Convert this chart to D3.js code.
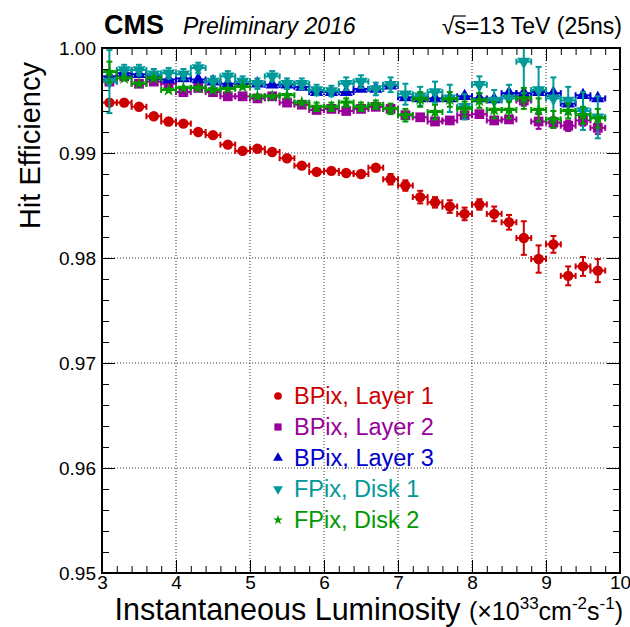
<!DOCTYPE html>
<html>
<head>
<meta charset="utf-8">
<script src="https://cdn.jsdelivr.net/npm/d3@7"></script>
<style>
  body { margin: 0; background: #fff; }
  svg { display: block; font-family: 'Liberation Sans', Arial, Helvetica, sans-serif; }
</style>
</head>
<body>
<svg id="chart" width="630" height="627"></svg>
<script>
// bin centres, instantaneous luminosity (1e33 cm-2 s-1)
const lumi = [3.1, 3.3, 3.5, 3.7, 3.9, 4.1, 4.3, 4.5, 4.7, 4.9, 5.1, 5.3, 5.5, 5.7, 5.9, 6.1, 6.3,
  6.5, 6.7, 6.9, 7.1, 7.3, 7.5, 7.7, 7.9, 8.1, 8.3, 8.5, 8.7, 8.9, 9.1, 9.3, 9.5, 9.7];
const binHalfWidth = 0.1;

const bpixL1Eff = [0.9948, 0.9948, 0.9944, 0.9935, 0.9930, 0.9928, 0.9920, 0.9917, 0.9908, 0.9902,
  0.9904, 0.9901, 0.9895, 0.9888, 0.9882, 0.9883, 0.9881, 0.9880, 0.9886, 0.9875, 0.9869, 0.9858,
  0.9853, 0.9849, 0.9842, 0.9851, 0.9842, 0.9834, 0.9819, 0.9799, 0.9813, 0.9783, 0.9792, 0.9788];
const bpixL1Err = [0.0001, 0.0001, 0.0001, 0.0001, 0.0001, 0.0001, 0.0001, 0.0001, 0.0001, 0.0001,
  0.0001, 0.0001, 0.0001, 0.0002, 0.0002, 0.0002, 0.0002, 0.0002, 0.0003, 0.0005, 0.0005, 0.0006,
  0.0005, 0.0006, 0.0006, 0.0005, 0.0007, 0.0007, 0.0016, 0.0013, 0.0008, 0.0009, 0.0009, 0.0011];

const bpixL2Eff = [0.9968, 0.9973, 0.9966, 0.9968, 0.9966, 0.9958, 0.9962, 0.9958, 0.9954, 0.9954,
  0.9952, 0.9954, 0.9948, 0.9946, 0.9941, 0.9942, 0.9940, 0.9942, 0.9944, 0.9942, 0.9936, 0.9934,
  0.9930, 0.9931, 0.9936, 0.9937, 0.9931, 0.9932, 0.9950, 0.9930, 0.9929, 0.9926, 0.9931, 0.9924];
const bpixL2Err = [0.0002, 0.0001, 0.0001, 0.0001, 0.0001, 0.0001, 0.0001, 0.0001, 0.0001, 0.0001,
  0.0001, 0.0001, 0.0001, 0.0001, 0.0001, 0.0001, 0.0002, 0.0002, 0.0002, 0.0002, 0.0002, 0.0002,
  0.0002, 0.0003, 0.0003, 0.0003, 0.0003, 0.0004, 0.0005, 0.0007, 0.0005, 0.0005, 0.0005, 0.0006];

const bpixL3Eff = [0.9973, 0.9976, 0.9975, 0.9973, 0.9970, 0.9971, 0.9970, 0.9968, 0.9966, 0.9966,
  0.9966, 0.9965, 0.9965, 0.9963, 0.9958, 0.9958, 0.9958, 0.9961, 0.9961, 0.9964, 0.9953, 0.9952,
  0.9952, 0.9952, 0.9954, 0.9952, 0.9951, 0.9957, 0.9957, 0.9958, 0.9957, 0.9947, 0.9955, 0.9952];
const bpixL3Err = [0.0002, 0.0001, 0.0001, 0.0001, 0.0001, 0.0001, 0.0001, 0.0001, 0.0001, 0.0001,
  0.0001, 0.0001, 0.0001, 0.0001, 0.0001, 0.0001, 0.0001, 0.0001, 0.0001, 0.0001, 0.0002, 0.0002,
  0.0002, 0.0002, 0.0002, 0.0002, 0.0002, 0.0002, 0.0003, 0.0003, 0.0003, 0.0003, 0.0003, 0.0003];

const fpixD1Eff = [0.9968, 0.9979, 0.9979, 0.9975, 0.9976, 0.9975, 0.9981, 0.9968, 0.9973, 0.9968,
  0.9966, 0.9973, 0.9966, 0.9966, 0.9960, 0.9959, 0.9966, 0.9968, 0.9961, 0.9965, 0.9956, 0.9954,
  0.9958, 0.9952, 0.9944, 0.9965, 0.9950, 0.9952, 0.9987, 0.9960, 0.9952, 0.9950, 0.9940, 0.9934];
const fpixD1Err = [0.0030, 0.0005, 0.0005, 0.0005, 0.0005, 0.0005, 0.0005, 0.0005, 0.0005, 0.0005,
  0.0005, 0.0005, 0.0005, 0.0005, 0.0005, 0.0005, 0.0006, 0.0006, 0.0006, 0.0007, 0.0010, 0.0009,
  0.0010, 0.0013, 0.0012, 0.0008, 0.0010, 0.0013, 0.0030, 0.0022, 0.0020, 0.0013, 0.0018, 0.0020];

const fpixD2Eff = [0.9977, 0.9971, 0.9966, 0.9971, 0.9960, 0.9962, 0.9962, 0.9960, 0.9961, 0.9963,
  0.9954, 0.9954, 0.9955, 0.9948, 0.9944, 0.9944, 0.9948, 0.9944, 0.9946, 0.9942, 0.9936, 0.9951,
  0.9939, 0.9951, 0.9942, 0.9950, 0.9941, 0.9941, 0.9952, 0.9941, 0.9932, 0.9940, 0.9936, 0.9933];
const fpixD2Err = [0.0010, 0.0003, 0.0003, 0.0003, 0.0003, 0.0003, 0.0003, 0.0003, 0.0003, 0.0003,
  0.0003, 0.0003, 0.0003, 0.0003, 0.0004, 0.0004, 0.0004, 0.0004, 0.0004, 0.0005, 0.0006, 0.0007,
  0.0007, 0.0007, 0.0007, 0.0007, 0.0008, 0.0008, 0.0010, 0.0011, 0.0008, 0.0007, 0.0008, 0.0009];

const seriesNames = ['BPix, Layer 1', 'BPix, Layer 2', 'BPix, Layer 3', 'FPix, Disk 1', 'FPix, Disk 2'];
const xTickLabels = [3, 4, 5, 6, 7, 8, 9, 10];
const yTickLabels = [0.95, 0.96, 0.97, 0.98, 0.99, 1.00];

const series = [
  { name: seriesNames[0], eff: bpixL1Eff, err: bpixL1Err, color: '#cc0000', shape: 'circle' },
  { name: seriesNames[1], eff: bpixL2Eff, err: bpixL2Err, color: '#990099', shape: 'square' },
  { name: seriesNames[2], eff: bpixL3Eff, err: bpixL3Err, color: '#0000cc', shape: 'up' },
  { name: seriesNames[3], eff: fpixD1Eff, err: fpixD1Err, color: '#009999', shape: 'down' },
  { name: seriesNames[4], eff: fpixD2Eff, err: fpixD2Err, color: '#009900', shape: 'star' }
];

const svg = d3.select('#chart'),
  margin = { top: 48, right: 10, bottom: 54, left: 102 },
  width = 630 - margin.left - margin.right,
  height = 627 - margin.top - margin.bottom;

const x = d3.scaleLinear().domain([3, 10]).range([0, width]),
  y = d3.scaleLinear().domain([0.95, 1.0]).range([height, 0]);

const g = svg.append('g')
  .attr('transform', 'translate(' + margin.left + ',' + margin.top + ')');

// dotted grid at the major ticks
g.append('g').selectAll('line')
  .data(xTickLabels.slice(1, -1))
  .enter().append('line')
  .attr('x1', (d) => x(d)).attr('x2', (d) => x(d))
  .attr('y1', 0).attr('y2', height)
  .attr('stroke', '#333').attr('stroke-width', 1).attr('stroke-dasharray', '1,2');
g.append('g').selectAll('line')
  .data(yTickLabels.slice(1, -1))
  .enter().append('line')
  .attr('y1', (d) => y(d)).attr('y2', (d) => y(d))
  .attr('x1', 0).attr('x2', width)
  .attr('stroke', '#333').attr('stroke-width', 1).attr('stroke-dasharray', '1,2');

// axes: ticks on all four sides, pointing inwards; only bottom/left carry labels
const xMinor = x.ticks(35), yMinor = y.ticks(25);
const axes = [
  [d3.axisBottom(x), xMinor, 7, null, 'translate(0,' + height + ')', 2],
  [d3.axisBottom(x), xTickLabels, 13, d3.format('d'), 'translate(0,' + height + ')', 2],
  [d3.axisTop(x), xMinor, 7, null, null, 0],
  [d3.axisTop(x), xTickLabels, 13, null, null, 0],
  [d3.axisLeft(y), yMinor, 7, null, null, 0],
  [d3.axisLeft(y), yTickLabels, 13, d3.format('.2f'), null, 6],
  [d3.axisRight(y), yMinor, 7, null, 'translate(' + width + ',0)', 0],
  [d3.axisRight(y), yTickLabels, 13, null, 'translate(' + width + ',0)', 0]
];
axes.forEach(([axis, vals, size, fmt, tr, pad]) => {
  axis.tickValues(vals).tickSizeInner(-size).tickSizeOuter(0).tickPadding(pad);
  if (fmt) axis.tickFormat(fmt);
  const a = g.append('g').call(axis);
  if (tr) a.attr('transform', tr);
  a.select('.domain').remove();
  a.selectAll('line').attr('stroke', '#000').attr('stroke-width', 1);
  if (!fmt) {
    a.selectAll('text').remove();
  } else {
    a.selectAll('text').attr('font-size', 19).attr('fill', '#000')
      .attr('font-family', "'Liberation Sans', Arial, sans-serif");
  }
});

// data points with error bars (clipped to the frame)
svg.append('clipPath').attr('id', 'frame-clip')
  .append('rect').attr('width', width).attr('height', height);
const plot = g.append('g').attr('clip-path', 'url(#frame-clip)');

function symbolPath(shape, scale) {
  const s = scale || 1;
  if (shape === 'circle') return d3.symbol(d3.symbolCircle, 85 * s)();
  if (shape === 'square') return d3.symbol(d3.symbolSquare, 95 * s)();
  if (shape === 'star') return d3.symbol(d3.symbolStar, 55 * s)();
  return d3.symbol(d3.symbolTriangle, 75 * s)();
}
const markerHalf = { circle: 5.2, square: 5, up: 5, down: 5, star: 4 };
const cap = 3;

series.forEach((s) => {
  const pts = lumi.map((l, i) => ({ l: l, v: s.eff[i], e: s.err[i] }));
  const grp = plot.append('g').attr('stroke', s.color).attr('stroke-width', 2);
  const half = markerHalf[s.shape];
  pts.forEach((p) => {
    const cx = x(p.l), cy = y(p.v),
      x0 = x(p.l - binHalfWidth), x1 = x(p.l + binHalfWidth),
      y0 = y(p.v - p.e), y1 = y(p.v + p.e);
    // horizontal bar + end caps
    grp.append('line').attr('x1', x0).attr('x2', x1).attr('y1', cy).attr('y2', cy);
    grp.append('line').attr('x1', x0).attr('x2', x0).attr('y1', cy - cap).attr('y2', cy + cap);
    grp.append('line').attr('x1', x1).attr('x2', x1).attr('y1', cy - cap).attr('y2', cy + cap);
    if (y0 - cy > half) {
      grp.append('line').attr('x1', cx).attr('x2', cx).attr('y1', y0).attr('y2', y1);
      grp.append('line').attr('x1', cx - cap).attr('x2', cx + cap).attr('y1', y0).attr('y2', y0);
      grp.append('line').attr('x1', cx - cap).attr('x2', cx + cap).attr('y1', y1).attr('y2', y1);
    }
  });
  plot.append('g').selectAll('path')
    .data(pts)
    .enter().append('path')
    .attr('d', symbolPath(s.shape))
    .attr('transform', (d) => 'translate(' + x(d.l) + ',' + y(d.v) + ')' +
      (s.shape === 'down' ? ' rotate(180)' : ''))
    .attr('fill', s.color);
});

// frame
g.append('rect').attr('width', width).attr('height', height)
  .attr('fill', 'none').attr('stroke', '#000').attr('stroke-width', 2);

// legend
const legend = svg.append('g').attr('transform', 'translate(278,396)');
series.forEach((s, i) => {
  const row = legend.append('g').attr('transform', 'translate(0,' + i * 31 + ')');
  row.append('path')
    .attr('d', symbolPath(s.shape, 0.55))
    .attr('transform', s.shape === 'down' ? 'rotate(180)' : null)
    .attr('fill', s.color);
  row.append('text')
    .attr('x', 16).attr('dy', '0.36em')
    .attr('font-size', 23.5).attr('fill', s.color)
    .text(s.name);
});

// header
svg.append('text').attr('x', 104).attr('y', 34)
  .attr('font-size', 27).attr('font-weight', 'bold').text('CMS');
svg.append('text').attr('x', 183).attr('y', 34)
  .attr('font-size', 23).attr('font-style', 'italic').text('Preliminary 2016');
const energy = svg.append('text').attr('x', 622).attr('y', 34)
  .attr('font-size', 23).attr('text-anchor', 'end');
energy.append('tspan').text('\u221A');
energy.append('tspan').text('s=13 TeV (25ns)');
const sBox = energy.node().getExtentOfChar(1);
svg.append('line')
  .attr('x1', sBox.x - 1).attr('x2', sBox.x + sBox.width)
  .attr('y1', sBox.y + 3).attr('y2', sBox.y + 3)
  .attr('stroke', '#000').attr('stroke-width', 1.2);

// axis titles
svg.append('text')
  .attr('transform', 'translate(40,62) rotate(-90)')
  .attr('text-anchor', 'end').attr('font-size', 29)
  .text('Hit Efficiency');

const xTitle = svg.append('text').attr('x', 623).attr('y', 620)
  .attr('text-anchor', 'end').attr('font-size', 30.5);
xTitle.append('tspan').text('Instantaneous Luminosity ');
xTitle.append('tspan').attr('font-size', 25).text('(\u00D710');
xTitle.append('tspan').attr('font-size', 17).attr('dy', -11).text('33');
xTitle.append('tspan').attr('font-size', 25).attr('dy', 11).text('cm');
xTitle.append('tspan').attr('font-size', 17).attr('dy', -11).text('-2');
xTitle.append('tspan').attr('font-size', 25).attr('dy', 11).text('s');
xTitle.append('tspan').attr('font-size', 17).attr('dy', -11).text('-1');
xTitle.append('tspan').attr('font-size', 25).attr('dy', 11).text(')');
</script>
</body>
</html>
